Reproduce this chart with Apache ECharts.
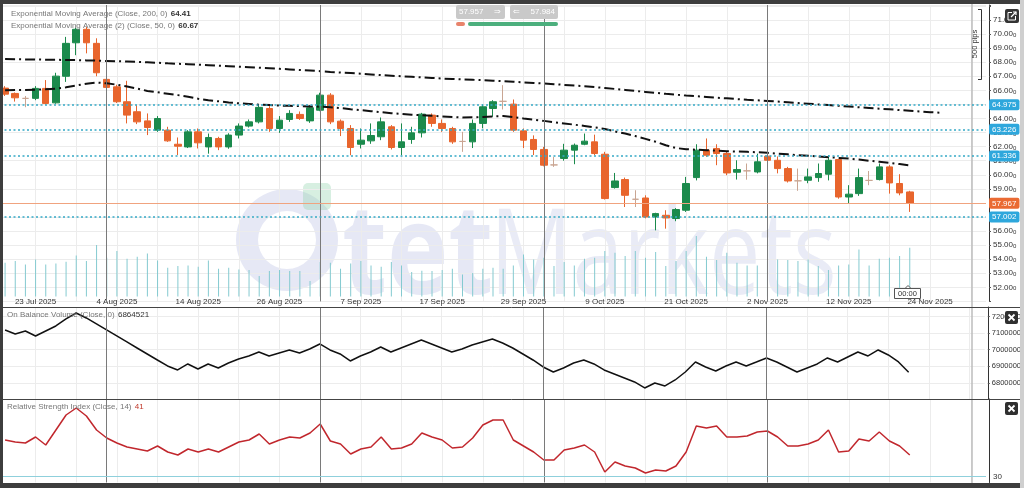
<!DOCTYPE html>
<html><head><meta charset="utf-8">
<script src="https://cdn.jsdelivr.net/npm/echarts@6/dist/echarts.min.js"></script>
<style>html,body{margin:0;padding:0;background:#fff;overflow:hidden}#c{width:1024px;height:488px}</style>
</head><body><div id="c"></div>
<script>
// ---------- data ----------
const tickLabels = ['23 Jul 2025','4 Aug 2025','14 Aug 2025','26 Aug 2025','7 Sep 2025','17 Sep 2025','29 Sep 2025','9 Oct 2025','21 Oct 2025','2 Nov 2025','12 Nov 2025','24 Nov 2025'];
const opens = [66.16,65.78,65.43,65.43,66.14,65.11,67.00,69.38,70.34,69.34,
66.78,66.25,65.19,64.48,63.83,63.17,63.17,62.17,61.98,63.05,
61.98,62.58,61.98,62.82,63.46,63.76,64.71,63.29,63.93,64.29,
63.83,64.59,65.66,63.81,63.29,62.17,62.41,62.70,63.41,61.94,
62.51,62.98,64.24,63.65,63.29,62.37,62.34,63.65,64.71,65.22,
65.02,63.12,62.51,61.80,60.70,61.16,61.75,62.17,62.34,61.46,
59.09,59.66,58.26,58.35,57.00,57.12,56.89,57.48,59.80,61.75,
61.87,61.51,60.18,60.28,60.20,61.32,61.03,60.44,59.57,59.61,
59.80,60.04,61.08,58.42,58.66,59.60,59.66,60.56,59.38,58.78];
const closes = [65.73,65.47,65.43,66.14,65.07,67.01,69.34,70.34,69.38,67.25,
66.21,65.19,64.24,63.76,63.36,64.00,62.41,62.03,63.05,62.27,
62.65,61.98,62.82,63.46,63.76,64.79,63.29,63.88,64.36,64.00,
64.76,65.66,63.76,63.29,61.94,62.46,62.79,63.76,61.94,62.34,
62.98,64.31,63.65,63.29,62.34,62.37,63.65,64.83,65.19,65.22,
63.17,62.46,61.80,60.68,60.70,61.75,62.10,62.39,61.51,58.31,
59.56,58.54,58.26,57.00,57.24,56.93,57.53,59.38,61.75,61.39,
61.51,60.13,60.37,60.28,60.92,61.03,60.44,59.56,59.57,59.85,
60.09,61.03,58.42,58.62,59.80,59.60,60.56,59.42,58.71,57.967];
const highs = [66.30,65.85,65.60,66.30,66.73,67.25,69.80,70.45,70.50,69.70,
66.90,66.40,66.68,64.95,64.36,64.17,63.41,62.65,63.17,63.29,
62.93,62.70,62.95,63.65,63.93,64.95,64.88,64.17,64.59,64.50,
64.95,65.83,65.80,63.93,63.53,63.29,63.65,64.07,63.53,63.65,
63.41,64.40,64.36,63.93,63.41,63.05,63.93,65.00,65.30,66.37,
65.35,63.29,62.80,61.98,61.27,62.20,62.22,62.93,62.85,61.63,
60.13,59.80,58.90,58.54,57.30,57.48,57.63,59.85,62.17,62.58,
62.17,61.63,61.03,60.80,61.50,61.56,61.30,60.56,60.44,60.44,
60.80,61.39,61.10,59.26,60.44,60.27,60.80,60.68,60.04,58.86];
const lows = [65.60,65.20,64.80,65.30,65.00,65.05,66.60,68.50,68.63,67.00,
66.10,65.10,63.65,63.60,62.82,63.05,62.34,61.40,61.90,61.87,
61.50,61.75,61.85,62.58,63.36,63.65,63.05,62.98,63.76,63.90,
63.69,64.52,63.60,62.75,61.39,61.87,62.20,62.46,61.80,61.39,
62.20,62.65,63.41,63.05,62.20,61.63,61.90,63.30,64.12,64.64,
63.05,61.90,61.40,60.60,60.56,61.00,60.75,62.10,61.39,58.24,
59.02,57.71,57.71,56.90,56.05,56.17,56.70,57.36,59.60,61.27,
60.68,59.97,59.66,59.65,60.10,60.92,60.10,59.45,58.86,59.40,
59.50,59.60,58.30,57.93,58.50,59.26,59.60,58.66,58.54,57.36];
const volumes = [33700,35300,32000,37000,32000,33000,34700,41000,35300,51300,
38700,45300,37700,39700,43000,36000,28700,30300,31000,29700,
36000,27700,28700,27000,26300,20300,25300,26300,25300,25300,
15300,34300,33700,27700,33000,35300,31000,29700,34300,31000,
24300,25700,25300,26300,27700,22000,23300,27700,28700,27700,
31000,42000,37000,38700,30300,34300,31000,37700,38700,45300,
43700,40300,45300,38700,44300,30300,35300,45300,60300,39700,
36300,43700,33700,31000,31000,35300,37000,36300,35300,37000,
30300,26300,31000,32000,47000,31000,37700,38700,40300,48700];
const ema200 = [68.22,68.21,68.20,68.19,68.18,68.17,68.16,68.15,68.13,68.11,
68.09,68.07,68.05,68.02,67.99,67.96,67.92,67.89,67.86,67.82,
67.79,67.75,67.72,67.68,67.65,67.61,67.57,67.53,67.49,67.45,
67.41,67.36,67.31,67.27,67.23,67.18,67.13,67.08,67.04,67.00,
66.96,66.92,66.88,66.84,66.81,66.78,66.75,66.72,66.69,66.65,
66.61,66.57,66.53,66.49,66.44,66.39,66.34,66.29,66.23,66.17,
66.10,66.03,65.96,65.89,65.82,65.75,65.69,65.63,65.58,65.53,
65.48,65.43,65.38,65.33,65.29,65.25,65.20,65.15,65.10,65.05,
65.00,64.95,64.90,64.85,64.80,64.75,64.70,64.65,64.60,64.55,
64.50,64.45,64.41];
const ema50 = [66.00,66.02,66.03,66.05,66.08,66.12,66.22,66.35,66.47,66.56,
66.50,66.40,66.27,66.12,65.96,65.86,65.76,65.66,65.55,65.40,
65.30,65.22,65.14,65.08,65.03,64.98,64.95,64.92,64.90,64.88,
64.86,64.84,64.80,64.74,64.66,64.59,64.52,64.45,64.38,64.32,
64.27,64.23,64.19,64.15,64.10,64.07,64.08,64.11,64.15,64.17,
64.10,64.00,63.92,63.83,63.74,63.65,63.56,63.47,63.37,63.25,
63.08,62.93,62.75,62.55,62.35,62.10,61.90,61.82,61.78,61.75,
61.71,61.68,61.65,61.63,61.60,61.56,61.50,61.45,61.39,61.35,
61.30,61.25,61.20,61.15,61.08,61.00,60.92,60.84,60.76,60.67];
const obv = [7118800,7094700,7112800,7082700,7112800,7142900,7185000,7221000,7191000,7154900,
7118800,7082700,7046600,7010500,6974400,6938300,6902300,6878200,6914300,6884200,
6914300,6890200,6920300,6944400,6962400,6986500,6962400,6980500,6998500,6980500,
7004500,7034600,6998500,6974400,6932300,6962400,6986500,7016500,6986500,7010500,
7034600,7058600,7034600,7010500,6986500,7004500,7028600,7046600,7064700,7040600,
7010500,6974400,6938300,6896200,6866200,6890200,6920300,6938300,6914300,6878200,
6854100,6830100,6806000,6769900,6800000,6782000,6818100,6866200,6926300,6896200,
6872200,6902300,6926300,6902300,6926300,6950400,6926300,6896200,6866200,6890200,
6914300,6950400,6926300,6956400,6986500,6962400,6998500,6968400,6926300,6864521];
const rsi = [48.25,47.25,46.75,49.75,45.75,53.25,60.75,64.25,60.25,53.25,
49.25,46.75,44.75,43.75,42.75,45.25,42.25,40.75,43.75,42.25,
43.75,42.25,44.75,47.25,48.25,51.25,46.25,48.25,49.75,49.25,
51.75,56.25,47.75,46.25,41.25,43.75,44.75,49.75,43.75,44.25,
46.25,51.75,49.75,48.25,44.25,44.75,49.25,55.75,58.25,58.25,
48.25,45.25,42.25,38.25,38.25,43.25,44.25,45.75,42.25,32.25,
37.25,35.25,34.25,31.75,33.25,32.75,35.25,42.25,55.25,54.25,
55.25,49.75,49.75,50.25,52.25,52.75,49.75,45.25,45.25,46.25,
48.25,53.25,42.25,42.75,48.75,47.75,52.25,47.75,45.25,40.75];
const levels = [64.975, 63.226, 61.336, 57.002];
const lastPrice = 57.967;
const monthStarts = [10, 31, 53, 75];
const SLOTS = 97;

// ---------- chart ----------
const F = '"Liberation Sans", Arial, sans-serif';
const cats = Array.from({length: SLOTS}, (_, i) => 'c' + i);
const vgrid = () => ({show: true, interval: i => i % 4 === 3, alignWithLabel: true, lineStyle: {color: '#ececec', width: 1}});
const monthLine = () => ({silent: true, symbol: ['none', 'none'], animation: false, label: {show: false},
  lineStyle: {color: '#7a7a7a', width: 1, type: 'solid'}, data: monthStarts.map(i => ({xAxis: cats[i]}))});
const lvlLabel = (txt, bg) => ({show: true, position: 'end', distance: 3, formatter: txt, color: '#fff', backgroundColor: bg,
  padding: [2, 3, 1, 3], fontSize: 8, fontFamily: F, borderRadius: 2});
const wm = 'rgba(172,180,222,0.30)';
const richL = (vColor, bold) => ({l: {fill: '#777', fontSize: 8, fontFamily: F}, v: {fill: vColor, fontSize: 8, fontWeight: bold ? 'bold' : 'normal', fontFamily: F}});

const chart = echarts.init(document.getElementById('c'));
const option = {
  animation: false,
  backgroundColor: '#fff',
  grid: [
    {left: 0, top: 5, width: 986, height: 296.4},
    {left: 0, top: 307, width: 986, height: 92.6},
    {left: 0, top: 399, width: 986, height: 83.5}
  ],
  xAxis: [
    {type: 'category', gridIndex: 0, data: cats, boundaryGap: true, axisLine: {show: false}, axisTick: {show: false},
     axisLabel: {interval: i => i % 8 === 3, formatter: (v, i) => tickLabels[(i - 3) / 8] || '', margin: -4, fontSize: 8, color: '#333', fontFamily: F},
     splitLine: vgrid()},
    {type: 'category', gridIndex: 1, data: cats, boundaryGap: true, axisLine: {show: false}, axisTick: {show: false}, axisLabel: {show: false}, splitLine: vgrid()},
    {type: 'category', gridIndex: 2, data: cats, boundaryGap: true, axisLine: {show: false}, axisTick: {show: false}, axisLabel: {show: false}, splitLine: vgrid()}
  ],
  yAxis: [
    {type: 'value', gridIndex: 0, position: 'right', offset: 3, min: 51, max: 72.066, interval: 1,
     axisLine: {show: true, lineStyle: {color: '#333'}}, axisTick: {show: true, length: 2, lineStyle: {color: '#555'}},
     axisLabel: {margin: 4, formatter: v => (v > 51.5 && v < 71.5) ? '{a|' + v.toFixed(2) + '}{b|0}' : '',
       rich: {a: {fontSize: 8, color: '#333', fontFamily: F}, b: {fontSize: 6, color: '#333', fontFamily: F, verticalAlign: 'bottom', padding: [3, 0, 0, 0]}}},
     splitLine: {show: true, lineStyle: {color: '#ececec'}}},
    {type: 'value', gridIndex: 0, min: -5000, max: 291400, show: false, splitLine: {show: false}},
    {type: 'value', gridIndex: 1, position: 'right', offset: 3, min: 6700000, max: 7257000, interval: 100000,
     axisLine: {show: true, lineStyle: {color: '#333'}}, axisTick: {show: true, length: 2, lineStyle: {color: '#555'}},
     axisLabel: {margin: 4, fontSize: 7.5, color: '#333', fontFamily: F, formatter: v => (v >= 6799000 && v <= 7201000) ? String(Math.round(v)) : ''},
     splitLine: {show: true, lineStyle: {color: '#ececec'}}},
    {type: 'value', gridIndex: 2, position: 'right', offset: 3, min: 27, max: 68.75, interval: 3,
     axisLine: {show: true, lineStyle: {color: '#333'}}, axisTick: {show: false},
     axisLabel: {margin: 4, fontSize: 8, color: '#333', fontFamily: F, formatter: v => Math.abs(v - 30) < 0.01 ? '30' : ''},
     splitLine: {show: false}}
  ],
  series: [
    {type: 'bar', xAxisIndex: 0, yAxisIndex: 1, data: volumes, barWidth: 1, silent: true, z: 1,
     itemStyle: {color: '#84cad0'}, markLine: monthLine()},
    {type: 'candlestick', xAxisIndex: 0, yAxisIndex: 0, barWidth: 7, z: 3,
     data: opens.map((o, i) => [o, closes[i], lows[i], highs[i]]),
     itemStyle: {color: '#1b8a4c', color0: '#e8652d', borderColor: '#1b8a4c', borderColor0: '#e8652d', borderColorDoji: '#c9a592', borderWidth: 1},
     markLine: {silent: true, symbol: ['none', 'none'], animation: false,
       data: levels.map(v => ({yAxis: v, lineStyle: {color: '#36a9c6', width: 1.5, type: [2, 2.5]}, label: lvlLabel(v.toFixed(3), '#2ea7dc')}))
         .concat([{yAxis: lastPrice, lineStyle: {color: '#f0a37f', width: 1, type: 'solid'}, label: lvlLabel(lastPrice.toFixed(3), '#ea6a33')}])}},
    {type: 'line', xAxisIndex: 0, yAxisIndex: 0, data: ema200, symbol: 'none', z: 4,
     lineStyle: {color: '#111', width: 2, type: [10, 4, 2, 4]}},
    {type: 'line', xAxisIndex: 0, yAxisIndex: 0, data: ema50, symbol: 'none', z: 4,
     lineStyle: {color: '#111', width: 2, type: [10, 4, 2, 4]}},
    {type: 'line', xAxisIndex: 1, yAxisIndex: 2, data: obv, symbol: 'none', z: 4,
     lineStyle: {color: '#111', width: 1.5}, markLine: monthLine()},
    {type: 'line', xAxisIndex: 2, yAxisIndex: 3, data: rsi, symbol: 'none', z: 4,
     lineStyle: {color: '#c1272d', width: 1.5},
     markLine: {silent: true, symbol: ['none', 'none'], animation: false, label: {show: false},
       data: monthLine().data.map(d => ({xAxis: d.xAxis, lineStyle: {color: '#7a7a7a', width: 1, type: 'solid'}}))
         .concat([{yAxis: 30, lineStyle: {color: '#8fd0dc', width: 1, type: 'solid'}}])}}
  ],
  graphic: {elements: [
    // watermark
    {type: 'ring', z: 0, silent: true, shape: {cx: 287, cy: 240, r: 51, r0: 29}, style: {fill: wm}},
    {type: 'rect', z: 0, silent: true, shape: {x: 303, y: 183, width: 28, height: 27, r: 5}, style: {fill: 'rgba(140,210,170,0.35)'}},
    {type: 'text', z: 0, silent: true, x: 342, y: 321, scaleX: 0.83, style: {text: 'tet', font: 'bold 125px "Open Sans", sans-serif', fill: wm, textVerticalAlign: 'bottom'}},
    {type: 'text', z: 0, silent: true, x: 490, y: 320, scaleX: 0.77, style: {text: 'Markets', font: '119px "Open Sans", sans-serif', fill: 'rgba(172,180,222,0.27)', textVerticalAlign: 'bottom'}},
    // right gray line
    {type: 'line', z: 5, silent: true, shape: {x1: 972, y1: 4, x2: 972, y2: 483}, style: {stroke: '#bdbdbd', lineWidth: 1.5}},
    // panel separators
    {type: 'line', z: 50, silent: true, shape: {x1: 3, y1: 307.5, x2: 1020, y2: 307.5}, style: {stroke: '#444', lineWidth: 1}},
    {type: 'line', z: 50, silent: true, shape: {x1: 3, y1: 399.5, x2: 1020, y2: 399.5}, style: {stroke: '#444', lineWidth: 1}},
    // frame
    {type: 'rect', z: 100, silent: true, shape: {x: 0, y: 0, width: 1024, height: 4}, style: {fill: '#3d3d3d'}},
    {type: 'rect', z: 100, silent: true, shape: {x: 0, y: 0, width: 3, height: 488}, style: {fill: '#3d3d3d'}},
    {type: 'rect', z: 100, silent: true, shape: {x: 0, y: 483, width: 1024, height: 5}, style: {fill: '#3d3d3d'}},
    {type: 'rect', z: 100, silent: true, shape: {x: 1020, y: 0, width: 4, height: 488}, style: {fill: '#cfcfcf'}},
    // indicator labels
    {type: 'text', z: 100, x: 11, y: 14, style: {text: '{l|Exponential Moving Average (Close, 200, 0)} {v|64.41}', textVerticalAlign: 'middle', rich: richL('#333', true)}},
    {type: 'text', z: 100, x: 11, y: 25.5, style: {text: '{l|Exponential Moving Average (2) (Close, 50, 0)} {v|60.67}', textVerticalAlign: 'middle', rich: richL('#333', true)}},
    {type: 'text', z: 100, x: 7, y: 315, style: {text: '{l|On Balance Volume (Close, 0)} {v|6864521}', textVerticalAlign: 'middle', rich: richL('#333', false)}},
    {type: 'text', z: 100, x: 7, y: 407, style: {text: '{l|Relative Strength Index (Close, 14)} {v|41}', textVerticalAlign: 'middle', rich: richL('#c0392b', false)}},
    // buy/sell widget
    {type: 'rect', z: 100, shape: {x: 456, y: 5, width: 49, height: 14, r: 2}, style: {fill: '#c9c9c9'}},
    {type: 'rect', z: 100, shape: {x: 510, y: 5, width: 48, height: 14, r: 2}, style: {fill: '#c9c9c9'}},
    {type: 'text', z: 101, x: 459, y: 12, style: {text: '57.957', fill: '#fff', font: '8px ' + F, textVerticalAlign: 'middle'}},
    {type: 'text', z: 101, x: 501, y: 12, style: {text: '⇒', fill: '#fff', font: '8px ' + F, textAlign: 'right', textVerticalAlign: 'middle'}},
    {type: 'text', z: 101, x: 513, y: 12, style: {text: '⇐', fill: '#fff', font: '8px ' + F, textVerticalAlign: 'middle'}},
    {type: 'text', z: 101, x: 555, y: 12, style: {text: '57.984', fill: '#fff', font: '8px ' + F, textAlign: 'right', textVerticalAlign: 'middle'}},
    {type: 'rect', z: 100, shape: {x: 456, y: 22, width: 9, height: 4, r: 2}, style: {fill: '#e8836b'}},
    {type: 'rect', z: 100, shape: {x: 468, y: 22, width: 90, height: 4, r: 2}, style: {fill: '#4caf7d'}},
    // 500 pips ruler
    {type: 'polyline', z: 100, shape: {points: [[978, 9.5], [981.5, 9.5], [981.5, 79.5], [978, 79.5]]}, style: {stroke: '#333', lineWidth: 1, fill: null}},
    {type: 'text', z: 100, x: 975, y: 44, rotation: Math.PI / 2, style: {text: '500 pips', fill: '#333', font: '7.5px ' + F, textAlign: 'center', textVerticalAlign: 'middle'}},
    // expand icon
    {type: 'rect', z: 100, shape: {x: 1005, y: 9, width: 14, height: 14, r: 2}, style: {fill: '#333'}},
    {type: 'polyline', z: 101, shape: {points: [[1012, 12.5], [1008, 12.5], [1008, 20], [1015.5, 20], [1015.5, 16]]}, style: {stroke: '#fff', lineWidth: 1, fill: null}},
    {type: 'line', z: 101, shape: {x1: 1011, y1: 17, x2: 1016, y2: 12}, style: {stroke: '#fff', lineWidth: 1.2}},
    {type: 'polyline', z: 101, shape: {points: [[1013, 12], [1016, 12], [1016, 15]]}, style: {stroke: '#fff', lineWidth: 1.2, fill: null}},
    // close buttons
    {type: 'rect', z: 100, shape: {x: 1005, y: 311, width: 13, height: 13, r: 2}, style: {fill: '#2f2f2f'}},
    {type: 'line', z: 101, shape: {x1: 1008.5, y1: 314.5, x2: 1014.5, y2: 320.5}, style: {stroke: '#fff', lineWidth: 1.8}},
    {type: 'line', z: 101, shape: {x1: 1014.5, y1: 314.5, x2: 1008.5, y2: 320.5}, style: {stroke: '#fff', lineWidth: 1.8}},
    {type: 'rect', z: 100, shape: {x: 1005, y: 402, width: 13, height: 13, r: 2}, style: {fill: '#2f2f2f'}},
    {type: 'line', z: 101, shape: {x1: 1008.5, y1: 405.5, x2: 1014.5, y2: 411.5}, style: {stroke: '#fff', lineWidth: 1.8}},
    {type: 'line', z: 101, shape: {x1: 1014.5, y1: 405.5, x2: 1008.5, y2: 411.5}, style: {stroke: '#fff', lineWidth: 1.8}},
    // time box
    {type: 'rect', z: 100, shape: {x: 894.5, y: 288.5, width: 26, height: 10}, style: {fill: '#fff', stroke: '#555', lineWidth: 1}},
    {type: 'polygon', z: 100, shape: {points: [[905, 288.5], [908, 285.5], [911, 288.5]]}, style: {fill: '#fff', stroke: '#555', lineWidth: 1}},
    {type: 'text', z: 101, x: 907.5, y: 293.8, style: {text: '00:00', fill: '#333', font: '7.5px ' + F, textAlign: 'center', textVerticalAlign: 'middle'}}
  ]}
};
chart.setOption(option);
</script>
</body></html>
